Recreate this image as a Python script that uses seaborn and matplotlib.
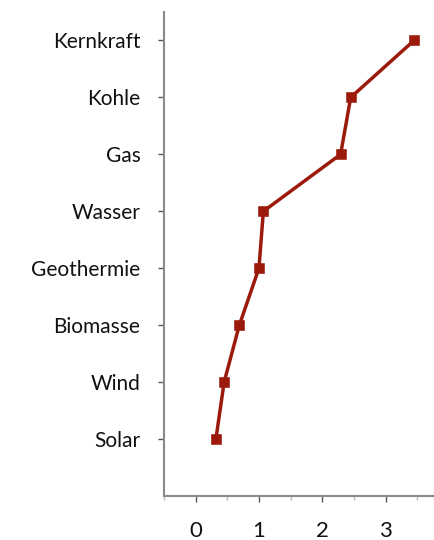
import numpy as np
import pandas as pd
import matplotlib
matplotlib.use('Agg')
import matplotlib.pyplot as plt
import seaborn as sns
from matplotlib.ticker import MultipleLocator

# Daten
quellen = ['Kernkraft', 'Kohle', 'Gas', 'Wasser', 'Geothermie', 'Biomasse', 'Wind', 'Solar']
werte = [3.45, 2.45, 2.29, 1.07, 1.00, 0.69, 0.45, 0.32]
x_ticks = [0, 1, 2, 3]

df = pd.DataFrame({'Quelle': quellen, 'Wert': werte})

sns.set_style('white')
plt.rcParams['font.family'] = ['Lato', 'DejaVu Sans']

fig = plt.figure(figsize=(4.34, 5.40), dpi=100)
ax = fig.add_axes([164 / 434, 1 - 496 / 540, (433 - 164) / 434, (496 - 12) / 540])

farbe = '#9C1A0B'
sns.pointplot(data=df, x='Wert', y='Quelle', order=quellen, orient='h',
              color=farbe, markers='s', markersize=6, linewidth=2.5, ax=ax)

ax.set_xlim(-0.5, 3.75)
ax.set_ylim(len(quellen), -0.5)
ax.set_xticks(x_ticks)
ax.set_xticklabels([str(t) for t in x_ticks])
ax.xaxis.set_minor_locator(MultipleLocator(0.5))
ax.set_xlabel('')
ax.set_ylabel('')

for s in ['top', 'right']:
    ax.spines[s].set_visible(False)
for s in ['left', 'bottom']:
    ax.spines[s].set_color('#8a8a8a')
    ax.spines[s].set_linewidth(1.5)

ax.tick_params(axis='y', which='major', left=True, length=4, width=1, color='#555555',
               labelsize=15, pad=13, labelcolor='#111111')
ax.tick_params(axis='x', which='major', bottom=True, length=4, width=1, color='#555555',
               labelsize=16, pad=14, labelcolor='#111111')
ax.tick_params(axis='x', which='minor', bottom=True, length=3, width=1, color='#bbbbbb')

fig.savefig('out.png', dpi=100)
